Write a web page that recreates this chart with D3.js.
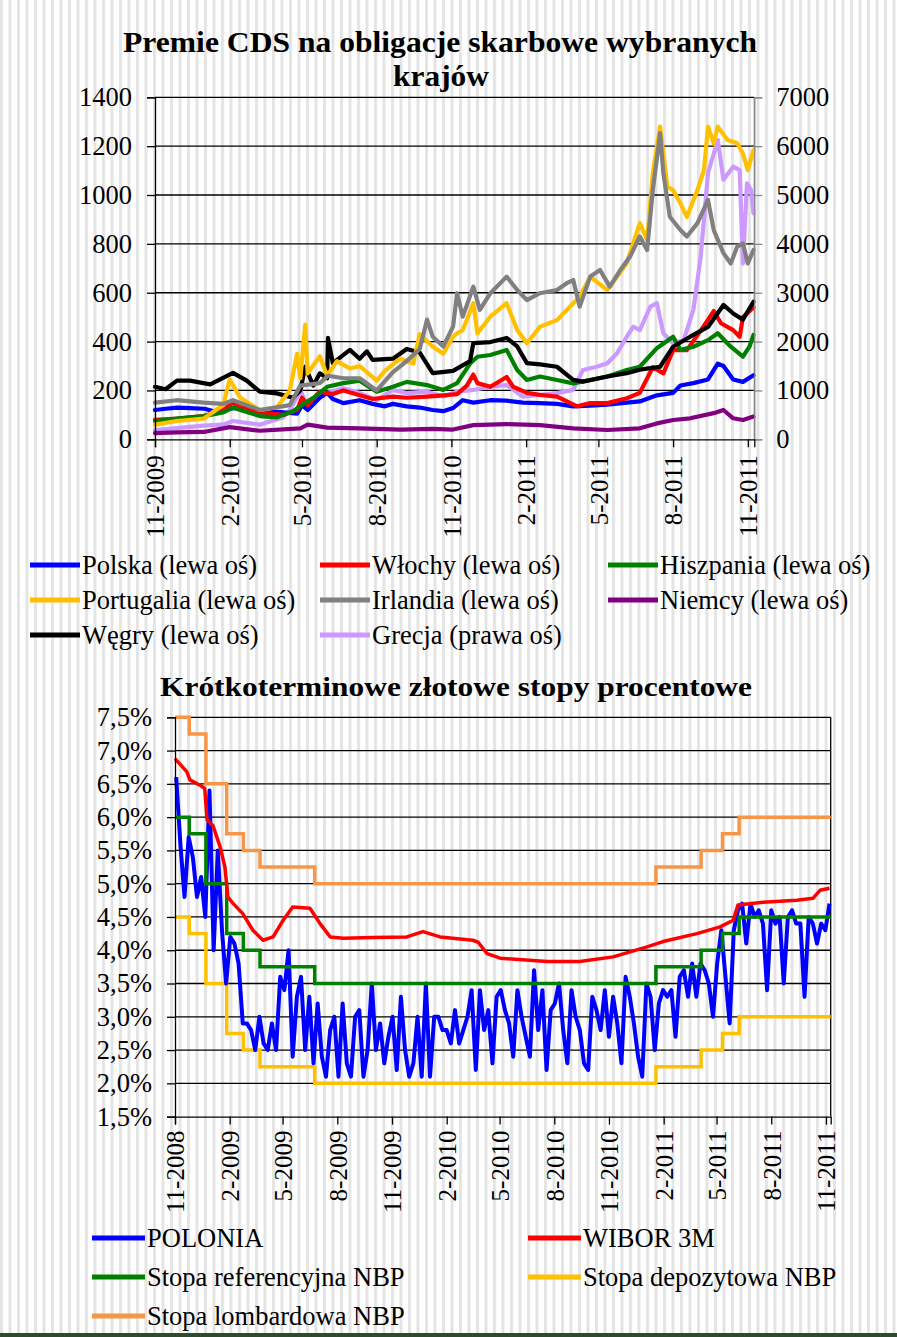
<!DOCTYPE html>
<html><head><meta charset="utf-8">
<script src="https://cdn.jsdelivr.net/npm/d3@7"></script>
<style>
body{margin:0;background:#fff}
svg{display:block}
text{font-family:"Liberation Serif","Times New Roman",serif;fill:#000}
</style>
</head><body>
<svg id="c" width="897" height="1337"></svg>
<script>
// ---------------- TOP CHART DATA (CDS, bps) ----------------
const topTicks = ["11-2009","2-2010","5-2010","8-2010","11-2010","2-2011","5-2011","8-2011","11-2011"];
const leftTicks = [0,200,400,600,800,1000,1200,1400];
const rightTicks = [0,1000,2000,3000,4000,5000,6000,7000];

const polska = [["2009-11-01",120],["2009-11-14",125],["2009-11-28",130],["2009-12-14",128],["2010-01-01",125],["2010-01-16",112],["2010-02-01",125],["2010-02-14",130],["2010-03-02",120],["2010-03-23",115],["2010-04-08",110],["2010-04-25",105],["2010-05-01",140],["2010-05-08",120],["2010-05-23",170],["2010-06-01",190],["2010-06-08",165],["2010-06-21",148],["2010-07-11",160],["2010-07-27",145],["2010-08-11",135],["2010-08-21",145],["2010-09-07",135],["2010-09-23",130],["2010-10-09",120],["2010-10-22",115],["2010-11-03",128],["2010-11-15",160],["2010-11-28",150],["2010-12-19",160],["2011-01-08",158],["2011-01-28",150],["2011-02-18",148],["2011-03-11",145],["2011-03-31",135],["2011-04-21",138],["2011-05-12",142],["2011-06-05",150],["2011-06-21",155],["2011-07-12",180],["2011-08-01",190],["2011-08-10",220],["2011-08-26",230],["2011-09-13",245],["2011-09-25",310],["2011-10-02",300],["2011-10-14",245],["2011-10-26",235],["2011-11-08",262]];

const wlochy = [["2009-11-01",80],["2009-11-28",85],["2009-12-31",95],["2010-01-24",120],["2010-02-05",150],["2010-02-14",130],["2010-03-10",110],["2010-04-08",100],["2010-04-25",120],["2010-05-01",170],["2010-05-08",140],["2010-05-23",195],["2010-06-08",185],["2010-06-21",200],["2010-07-11",180],["2010-07-27",165],["2010-08-21",175],["2010-09-07",170],["2010-10-02",175],["2010-10-22",180],["2010-11-08",185],["2010-11-20",220],["2010-11-28",265],["2010-12-03",230],["2010-12-19",215],["2011-01-08",255],["2011-01-16",215],["2011-02-02",190],["2011-02-18",182],["2011-03-11",175],["2011-04-05",135],["2011-04-21",148],["2011-05-12",148],["2011-06-05",168],["2011-06-21",190],["2011-07-07",295],["2011-07-20",270],["2011-08-01",365],["2011-08-18",365],["2011-09-04",445],["2011-09-20",525],["2011-09-29",475],["2011-10-14",447],["2011-10-22",420],["2011-10-26",500],["2011-11-08",540]];

const hiszpania = [["2009-11-01",75],["2009-11-28",85],["2009-12-31",95],["2010-01-24",110],["2010-02-05",130],["2010-02-14",120],["2010-03-10",95],["2010-03-31",90],["2010-04-20",115],["2010-05-01",140],["2010-05-15",170],["2010-06-01",215],["2010-06-21",230],["2010-07-11",240],["2010-08-01",195],["2010-08-21",215],["2010-09-07",235],["2010-10-02",222],["2010-10-22",202],["2010-11-08",230],["2010-11-24",310],["2010-12-03",338],["2010-12-19",345],["2011-01-08",366],["2011-01-21",284],["2011-02-02",243],["2011-02-18",257],["2011-03-11",243],["2011-03-31",229],["2011-04-21",243],["2011-05-12",257],["2011-06-05",284],["2011-06-21",297],["2011-07-12",373],["2011-08-01",420],["2011-08-10",366],["2011-08-26",379],["2011-09-13",406],["2011-09-25",434],["2011-10-11",379],["2011-10-26",338],["2011-11-03",379],["2011-11-08",427]];

const portugalia = [["2009-11-01",60],["2009-11-28",75],["2009-12-31",85],["2010-01-24",140],["2010-02-01",245],["2010-02-14",170],["2010-03-10",120],["2010-03-31",130],["2010-04-16",200],["2010-04-25",350],["2010-04-29",250],["2010-05-05",470],["2010-05-08",270],["2010-05-23",340],["2010-06-01",260],["2010-06-13",320],["2010-06-29",290],["2010-07-11",300],["2010-08-01",240],["2010-08-11",280],["2010-08-30",330],["2010-09-15",310],["2010-09-23",430],["2010-10-09",380],["2010-10-22",350],["2010-11-03",420],["2010-11-08",434],["2010-11-15",447],["2010-11-28",557],["2010-12-03",434],["2010-12-19",502],["2011-01-08",557],["2011-01-21",447],["2011-02-02",393],["2011-02-18",461],["2011-03-11",488],["2011-03-31",557],["2011-04-08",584],["2011-04-21",666],["2011-05-12",611],["2011-06-05",721],["2011-06-21",885],["2011-06-30",816],["2011-07-07",1090],["2011-07-16",1280],["2011-07-25",1034],["2011-08-01",1020],["2011-08-10",966],["2011-08-18",911],["2011-08-31",1020],["2011-09-08",1102],["2011-09-13",1280],["2011-09-20",1212],["2011-09-25",1280],["2011-10-07",1225],["2011-10-19",1212],["2011-10-26",1170],["2011-11-01",1102],["2011-11-08",1184]];

const irlandia = [["2009-11-01",150],["2009-11-28",160],["2009-12-31",150],["2010-01-24",145],["2010-02-05",160],["2010-03-10",120],["2010-04-16",140],["2010-04-29",220],["2010-05-23",230],["2010-06-02",260],["2010-06-21",250],["2010-07-11",250],["2010-08-01",200],["2010-08-21",275],["2010-09-07",320],["2010-09-23",370],["2010-10-02",490],["2010-10-09",420],["2010-10-22",380],["2010-11-03",461],["2010-11-08",598],["2010-11-15",502],["2010-11-28",625],["2010-12-06",530],["2010-12-19",598],["2011-01-08",666],["2011-01-21",611],["2011-02-02",570],["2011-02-18",598],["2011-03-11",611],["2011-03-23",639],["2011-03-31",652],["2011-04-08",543],["2011-04-21",666],["2011-05-03",693],["2011-05-15",625],["2011-05-28",693],["2011-06-09",748],["2011-06-21",830],["2011-06-30",775],["2011-07-07",1020],["2011-07-16",1253],["2011-07-20",1090],["2011-07-28",911],["2011-08-10",857],["2011-08-18",830],["2011-08-31",885],["2011-09-13",980],["2011-09-20",857],["2011-10-02",762],["2011-10-11",720],["2011-10-19",789],["2011-10-26",802],["2011-11-01",720],["2011-11-08",775]];

const niemcy = [["2009-11-01",25],["2009-11-28",28],["2009-12-31",30],["2010-02-01",50],["2010-03-10",35],["2010-04-29",45],["2010-05-08",60],["2010-06-01",48],["2010-07-11",45],["2010-08-30",40],["2010-10-09",43],["2010-11-03",40],["2010-11-28",58],["2011-01-08",62],["2011-02-18",58],["2011-03-31",45],["2011-05-12",38],["2011-06-21",45],["2011-07-12",65],["2011-08-01",79],["2011-08-22",86],["2011-09-20",107],["2011-10-02",120],["2011-10-14",86],["2011-10-26",79],["2011-11-08",93]];

const wegry = [["2009-11-01",215],["2009-11-14",205],["2009-11-28",240],["2009-12-14",240],["2010-01-08",225],["2010-02-05",272],["2010-02-22",240],["2010-03-10",195],["2010-03-31",188],["2010-04-20",170],["2010-04-29",200],["2010-05-05",297],["2010-05-15",220],["2010-05-23",270],["2010-06-01",250],["2010-06-02",415],["2010-06-08",312],["2010-06-29",366],["2010-07-11",330],["2010-07-20",360],["2010-07-27",325],["2010-08-21",330],["2010-09-07",370],["2010-09-23",355],["2010-10-09",271],["2010-11-03",280],["2010-11-24",320],["2010-11-28",394],["2010-12-19",398],["2011-01-08",415],["2011-01-21",380],["2011-02-02",312],["2011-02-18",307],["2011-03-11",297],["2011-03-31",243],["2011-04-12",236],["2011-05-12",257],["2011-06-05",271],["2011-06-21",285],["2011-07-16",297],["2011-08-01",379],["2011-08-22",420],["2011-09-13",460],["2011-10-02",550],["2011-10-14",515],["2011-10-26",490],["2011-11-08",563]];

// right axis
const grecja = [["2009-11-01",190],["2009-11-28",230],["2009-12-31",280],["2010-01-24",300],["2010-02-05",375],["2010-03-10",300],["2010-04-08",450],["2010-04-16",600],["2010-04-29",1000],["2010-05-08",670],["2010-05-23",875],["2010-06-01",945],["2010-06-21",1045],["2010-07-11",945],["2010-08-01",805],["2010-08-21",1010],["2010-09-07",945],["2010-10-02",975],["2010-10-22",875],["2010-11-08",975],["2010-11-28",1010],["2010-12-19",1080],["2011-01-08",1110],["2011-01-28",875],["2011-02-18",910],["2011-03-11",945],["2011-03-31",1010],["2011-04-12",1420],["2011-04-29",1485],["2011-05-12",1555],["2011-05-24",1760],["2011-06-05",2100],["2011-06-13",2305],["2011-06-21",2235],["2011-07-04",2715],["2011-07-12",2785],["2011-07-20",2170],["2011-08-01",1965],["2011-08-14",2030],["2011-08-26",2650],["2011-09-04",3740],["2011-09-13",5450],["2011-09-25",6125],["2011-10-02",5315],["2011-10-14",5580],["2011-10-22",5510],["2011-10-26",3600],["2011-10-31",5240],["2011-11-05",5100],["2011-11-08",4625]];

const topSeries = [
  {name:"Polska (lewa oś)", data:polska, color:"#0000ff", axis:"L"},
  {name:"Włochy (lewa oś)", data:wlochy, color:"#ff0000", axis:"L"},
  {name:"Hiszpania (lewa oś)", data:hiszpania, color:"#008000", axis:"L"},
  {name:"Portugalia (lewa oś)", data:portugalia, color:"#ffc000", axis:"L"},
  {name:"Irlandia (lewa oś)", data:irlandia, color:"#808080", axis:"L"},
  {name:"Niemcy (lewa oś)", data:niemcy, color:"#800080", axis:"L"},
  {name:"Węgry (lewa oś)", data:wegry, color:"#000000", axis:"L"},
  {name:"Grecja (prawa oś)", data:grecja, color:"#cc99ff", axis:"R"}
];
const drawOrder = ["Grecja (prawa oś)","Niemcy (lewa oś)","Polska (lewa oś)","Włochy (lewa oś)","Hiszpania (lewa oś)","Węgry (lewa oś)","Portugalia (lewa oś)","Irlandia (lewa oś)"];

// ---------------- BOTTOM CHART DATA (%, rates) ----------------
const botTicks = ["11-2008","2-2009","5-2009","8-2009","11-2009","2-2010","5-2010","8-2010","11-2010","2-2011","5-2011","8-2011","11-2011"];
const pctTicks = [1.5,2.0,2.5,3.0,3.5,4.0,4.5,5.0,5.5,6.0,6.5,7.0,7.5];

const nbpDates = ["2008-11-01","2008-11-25","2008-12-23","2009-01-27","2009-02-24","2009-03-24","2009-06-24","2011-01-19","2011-04-05","2011-05-11","2011-06-08","2011-11-09"];
const stopaRef  = [6.00,5.75,5.00,4.25,4.00,3.75,3.50,3.75,4.00,4.25,4.50,4.50];
const stopaDep  = [4.50,4.25,3.50,2.75,2.50,2.25,2.00,2.25,2.50,2.75,3.00,3.00];
const stopaLomb = [7.50,7.25,6.50,5.75,5.50,5.25,5.00,5.25,5.50,5.75,6.00,6.00];

const wibor = [["2008-11-01",6.88],["2008-11-21",6.68],["2008-11-26",6.56],["2008-12-13",6.48],["2008-12-21",6.43],["2008-12-25",5.96],["2009-01-04",5.87],["2009-01-16",5.55],["2009-01-24",5.25],["2009-01-29",4.80],["2009-02-07",4.70],["2009-02-23",4.55],["2009-03-12",4.30],["2009-03-29",4.15],["2009-04-15",4.20],["2009-05-02",4.45],["2009-05-18",4.65],["2009-06-16",4.63],["2009-07-03",4.40],["2009-07-20",4.20],["2009-08-11",4.18],["2009-09-30",4.19],["2009-11-26",4.20],["2009-12-23",4.28],["2010-01-21",4.20],["2010-03-17",4.15],["2010-03-26",4.12],["2010-04-10",3.95],["2010-05-02",3.88],["2010-07-20",3.83],["2010-09-13",3.83],["2010-11-08",3.90],["2011-01-04",4.05],["2011-01-31",4.13],["2011-03-29",4.25],["2011-05-07",4.35],["2011-05-29",4.45],["2011-06-06",4.68],["2011-07-18",4.72],["2011-09-13",4.75],["2011-10-10",4.78],["2011-10-22",4.90],["2011-11-07",4.93]];

// POLONIA weekly observations starting 2008-11-03
const poloniaStart = "2008-11-03";
const polonia = [6.6,5.6,4.8,5.7,5.4,4.8,5.1,4.5,6.4,4.0,5.5,4.3,3.5,4.2,4.1,3.8,2.9,2.9,2.8,2.5,
3.0,2.6,2.5,2.9,2.5,3.6,3.4,4.0,2.4,3.3,3.6,2.5,3.3,2.3,3.2,2.4,2.1,2.8,3.0,2.1,
3.2,2.3,2.1,3.0,3.1,2.1,2.5,3.5,2.5,2.9,2.3,2.7,3.0,2.2,3.3,2.5,2.1,2.3,3.0,2.1,
3.5,2.1,3.0,3.0,2.8,2.8,2.6,3.1,2.6,2.8,3.0,3.4,2.2,3.4,2.8,3.1,2.3,3.3,3.4,3.1,
2.9,2.4,3.4,3.0,2.7,2.4,3.7,2.8,3.4,2.2,3.1,3.2,3.5,2.8,2.3,3.4,3.0,2.8,2.3,2.2,
3.3,3.1,2.8,3.4,2.7,3.3,2.9,2.3,3.6,3.3,2.9,2.4,2.1,3.5,3.3,2.5,3.2,3.4,3.3,3.4,
2.7,3.6,3.7,3.3,3.8,3.3,3.8,3.7,3.5,3.0,3.8,4.3,3.6,2.9,4.3,4.6,4.7,4.1,4.7,4.5,
4.6,4.4,3.4,4.6,4.4,4.5,3.5,4.5,4.6,4.4,4.4,3.3,4.5,4.4,4.1,4.4,4.3,4.7];

const botLegend = [
  {name:"POLONIA", color:"#0000ff"},
  {name:"WIBOR 3M", color:"#ff0000"},
  {name:"Stopa referencyjna NBP", color:"#008000"},
  {name:"Stopa depozytowa NBP", color:"#ffc000"},
  {name:"Stopa lombardowa NBP", color:"#f79646"}
];

// ---------------- DRAW ----------------
const svg = d3.select("#c");
const parse = d3.timeParse("%Y-%m-%d");
const parseTick = d3.timeParse("%m-%Y");

const defs = svg.append("defs");
const pat = defs.append("pattern").attr("id","stripes").attr("patternUnits","userSpaceOnUse")
  .attr("width",8.5).attr("height",20);
pat.append("rect").attr("width",8.5).attr("height",20).attr("fill","#ffffff");
pat.append("rect").attr("x",0).attr("width",3).attr("height",20).attr("fill","#e4e4e4");
svg.append("rect").attr("width",897).attr("height",1337).attr("fill","url(#stripes)");

// bottom dark border
svg.append("rect").attr("x",0).attr("y",1333).attr("width",897).attr("height",4).attr("fill","#2f4a2f");

const FS = 26.5;   // y tick labels
const FSX = 25;    // rotated x tick labels
const FSL = 26.5;  // legend

// ===== TOP =====
const x1 = d3.scaleTime().domain([parse("2009-11-01"), parse("2011-11-09")]).range([155, 754.3]);
const yL = d3.scaleLinear().domain([0,1400]).range([439.3, 97.3]);
const yR = d3.scaleLinear().domain([0,7000]).range([439.3, 97.3]);

svg.append("text").attr("x",440).attr("y",52).attr("text-anchor","middle")
  .attr("font-weight","bold").attr("font-size",29).attr("textLength",634).attr("lengthAdjust","spacingAndGlyphs")
  .text("Premie CDS na obligacje skarbowe wybranych");
svg.append("text").attr("x",441).attr("y",86).attr("text-anchor","middle")
  .attr("font-weight","bold").attr("font-size",29).attr("textLength",96).attr("lengthAdjust","spacingAndGlyphs")
  .text("krajów");

const gTop = svg.append("g");
gTop.selectAll("line.grid").data(leftTicks.filter(d=>d>0)).join("line")
  .attr("x1",155).attr("x2",754.3).attr("y1",d=>yL(d)).attr("y2",d=>yL(d))
  .attr("stroke","#000").attr("stroke-width",1.3);
gTop.append("line").attr("x1",754.3).attr("x2",754.3).attr("y1",97.3).attr("y2",439.3)
  .attr("stroke","#888").attr("stroke-width",1.3);

const line1 = s => d3.line()
  .x(d=>x1(parse(d[0])))
  .y(d=>(s.axis==="R"?yR:yL)(d[1]))
  .curve(d3.curveLinear);
drawOrder.forEach(n=>{
  const s = topSeries.find(t=>t.name===n);
  gTop.append("path").datum(s.data).attr("d",line1(s)).attr("fill","none")
    .attr("stroke",s.color).attr("stroke-width",4.2).attr("stroke-linejoin","round").attr("stroke-linecap","round");
});

const axL = d3.axisLeft(yL).tickValues(leftTicks).tickSize(8).tickPadding(15).tickFormat(d3.format("d"));
const gL = svg.append("g").attr("transform","translate(155,0)").call(axL);
const axR = d3.axisRight(yR).tickValues(rightTicks).tickSize(8).tickPadding(14).tickFormat(d3.format("d"));
const gR = svg.append("g").attr("transform","translate(754.3,0)").call(axR);
const axB1 = d3.axisBottom(x1).tickValues(topTicks.map(parseTick)).tickSize(8).tickFormat(d3.timeFormat("%-m-%Y"));
const gB1 = svg.append("g").attr("transform","translate(0,439.3)").call(axB1);
[gL,gR,gB1].forEach(g=>{
  g.selectAll("text").attr("font-size",FS).attr("font-family","Liberation Serif").attr("fill","#000");
  g.selectAll("line").attr("stroke","#000").attr("stroke-width",1.3);
  g.select(".domain").attr("stroke","#000").attr("stroke-width",1.3);
});
gR.select(".domain").attr("stroke","#888");
gR.selectAll("line").attr("stroke","#888");
gB1.selectAll("text").attr("font-size",FSX).attr("transform","rotate(-90)").attr("text-anchor","end")
  .attr("x",-16).attr("y",0).attr("dy","0.35em");

const legPos = [[82,565],[372,565],[660,565],[82,600],[372,600],[660,600],[82,635],[372,635]];
topSeries.forEach((s,i)=>{
  const [tx,ty] = legPos[i];
  svg.append("line").attr("x1",tx-52).attr("x2",tx-2).attr("y1",ty).attr("y2",ty)
    .attr("stroke",s.color).attr("stroke-width",5);
  svg.append("text").attr("x",tx).attr("y",ty).attr("dy","0.33em").attr("font-size",FSL).text(s.name);
});

// ===== BOTTOM =====
const x2 = d3.scaleTime().domain([parse("2008-11-01"), parse("2011-11-09")]).range([175, 830.7]);
const y2 = d3.scaleLinear().domain([1.5,7.5]).range([1116.6, 717.3]);

svg.append("text").attr("x",456).attr("y",696).attr("text-anchor","middle")
  .attr("font-weight","bold").attr("font-size",28).attr("textLength",592).attr("lengthAdjust","spacingAndGlyphs")
  .text("Krótkoterminowe złotowe stopy procentowe");

const gBot = svg.append("g");
gBot.selectAll("line.grid").data(pctTicks.filter(d=>d>1.5)).join("line")
  .attr("x1",175).attr("x2",830.7).attr("y1",d=>y2(d)).attr("y2",d=>y2(d))
  .attr("stroke","#000").attr("stroke-width",1.3);
gBot.append("line").attr("x1",830.7).attr("x2",830.7).attr("y1",717.3).attr("y2",1116.6)
  .attr("stroke","#000").attr("stroke-width",1.3);

const stepLine = d3.line().x(d=>x2(parse(d[0]))).y(d=>y2(d[1])).curve(d3.curveStepAfter);
const zipRates = arr => nbpDates.map((d,i)=>[d,arr[i]]);
const poloniaStartDate = parse(poloniaStart);
const poloniaData = polonia.map((v,i)=>[d3.timeFormat("%Y-%m-%d")(d3.timeDay.offset(poloniaStartDate,7*i)),v]);
const plainLine = d3.line().x(d=>x2(parse(d[0]))).y(d=>y2(d[1]));

gBot.append("path").datum(zipRates(stopaLomb)).attr("d",stepLine).attr("fill","none").attr("stroke","#f79646").attr("stroke-width",3.5);
gBot.append("path").datum(zipRates(stopaDep)).attr("d",stepLine).attr("fill","none").attr("stroke","#ffc000").attr("stroke-width",3.5);
gBot.append("path").datum(poloniaData).attr("d",plainLine).attr("fill","none").attr("stroke","#0000ff").attr("stroke-width",4).attr("stroke-linejoin","round");
gBot.append("path").datum(zipRates(stopaRef)).attr("d",stepLine).attr("fill","none").attr("stroke","#008000").attr("stroke-width",3.5);
gBot.append("path").datum(wibor).attr("d",plainLine).attr("fill","none").attr("stroke","#ff0000").attr("stroke-width",3.5).attr("stroke-linejoin","round");

const axL2 = d3.axisLeft(y2).tickValues(pctTicks).tickSize(8).tickPadding(15)
  .tickFormat(d=>d3.format(".1f")(d).replace(".",",")+"%");
const gL2 = svg.append("g").attr("transform","translate(175,0)").call(axL2);
const axB2 = d3.axisBottom(x2).tickValues(botTicks.map(parseTick)).tickSize(8).tickFormat(d3.timeFormat("%-m-%Y"));
const gB2 = svg.append("g").attr("transform","translate(0,1116.6)").call(axB2);
[gL2,gB2].forEach(g=>{
  g.selectAll("text").attr("font-size",FS).attr("font-family","Liberation Serif").attr("fill","#000");
  g.selectAll("line").attr("stroke","#000").attr("stroke-width",1.3);
  g.select(".domain").attr("stroke","#000").attr("stroke-width",1.3);
});
gB2.selectAll("text").attr("font-size",FSX).attr("transform","rotate(-90)").attr("text-anchor","end")
  .attr("x",-14).attr("y",0).attr("dy","0.35em");

const botPos = [[147,1238],[583,1238],[147,1277],[583,1277],[147,1316]];
botLegend.forEach((s,i)=>{
  const [tx,ty] = botPos[i];
  svg.append("line").attr("x1",tx-55).attr("x2",tx-2).attr("y1",ty).attr("y2",ty)
    .attr("stroke",s.color).attr("stroke-width",5);
  svg.append("text").attr("x",tx).attr("y",ty).attr("dy","0.33em").attr("font-size",FSL).text(s.name);
});
</script>
</body></html>
